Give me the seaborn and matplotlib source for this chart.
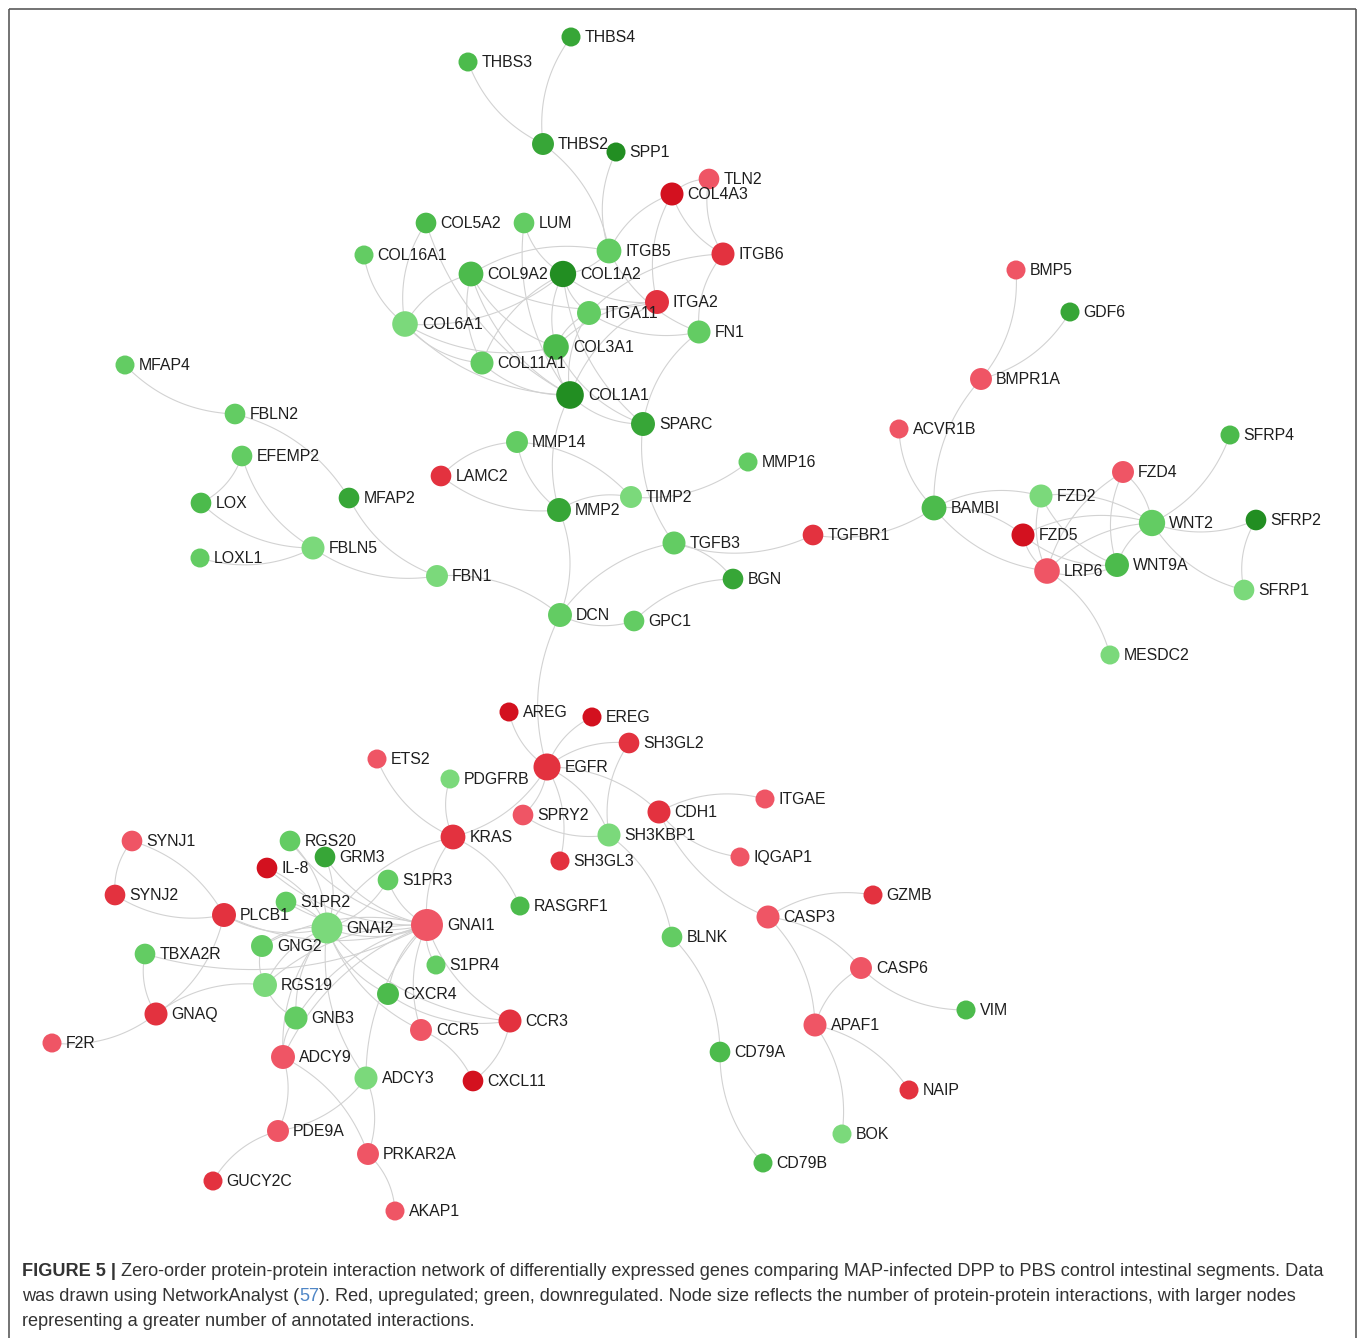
import numpy as np
import pandas as pd
import matplotlib
matplotlib.use("Agg")
import matplotlib.pyplot as plt
from matplotlib.collections import LineCollection
import seaborn as sns

# ---------------------------------------------------------------- data
genes = [
    "THBS4", "THBS3", "THBS2", "SPP1", "TLN2", "COL4A3", "COL5A2", "LUM",
    "COL16A1", "ITGB5", "ITGB6", "COL9A2", "COL1A2", "ITGA2", "ITGA11", "FN1",
    "COL6A1", "COL3A1", "COL11A1", "COL1A1", "SPARC", "MFAP4", "FBLN2", "EFEMP2",
    "LOX", "MFAP2", "LOXL1", "FBLN5", "FBN1", "MMP14", "LAMC2", "TIMP2",
    "MMP16", "MMP2", "TGFB3", "BGN", "DCN", "GPC1", "TGFBR1",
    "BMP5", "GDF6", "BMPR1A", "ACVR1B", "SFRP4", "FZD4", "FZD2", "BAMBI",
    "WNT2", "SFRP2", "FZD5", "LRP6", "WNT9A", "SFRP1", "MESDC2",
    "AREG", "EREG", "SH3GL2", "ETS2", "EGFR", "PDGFRB", "ITGAE", "SPRY2",
    "CDH1", "SH3KBP1", "KRAS", "SYNJ1", "RGS20", "GRM3", "IQGAP1", "SH3GL3",
    "IL-8", "S1PR3", "GZMB", "SYNJ2", "S1PR2", "RASGRF1", "PLCB1", "GNAI2",
    "GNAI1", "CASP3", "BLNK", "GNG2", "TBXA2R", "S1PR4", "CASP6", "RGS19",
    "CXCR4", "VIM", "GNAQ", "GNB3", "CCR3", "APAF1", "CCR5", "F2R",
    "CD79A", "ADCY9", "ADCY3", "CXCL11", "NAIP", "BOK", "PDE9A", "PRKAR2A",
    "CD79B", "GUCY2C", "AKAP1",
]

layout_x = [
    571, 468, 543, 616, 709, 672, 426, 524,
    364, 609, 723, 471, 563, 657, 589, 699,
    405, 556, 482, 570, 643, 125, 235, 242,
    201, 349, 200, 313, 437, 517, 441, 631,
    748, 559, 674, 733, 560, 634, 813,
    1016, 1070, 981, 899, 1230, 1123, 1041, 934,
    1152, 1256, 1023, 1047, 1117, 1244, 1110,
    509, 592, 629, 377, 547, 450, 765, 523,
    659, 609, 453, 132, 290, 325, 740, 560,
    267, 388, 873, 115, 286, 520, 224, 327,
    427, 768, 672, 262, 145, 436, 861, 265,
    388, 966, 156, 296, 510, 815, 421, 52,
    720, 283, 366, 473, 909, 842, 278, 368,
    763, 213, 395,
]

layout_y = [
    37, 62, 144, 152, 179, 194, 223, 223,
    255, 251, 254, 274, 274, 302, 313, 332,
    324, 347, 363, 395, 424, 365, 414, 456,
    503, 498, 558, 548, 576, 442, 476, 497,
    462, 510, 543, 579, 615, 621, 535,
    270, 312, 379, 429, 435, 472, 496, 508,
    523, 520, 535, 571, 565, 590, 655,
    712, 717, 743, 759, 767, 779, 799, 815,
    812, 835, 837, 841, 841, 857, 857, 861,
    868, 880, 895, 895, 902, 906, 915, 928,
    925, 917, 937, 946, 954, 965, 968, 985,
    994, 1010, 1014, 1018, 1021, 1025, 1030, 1043,
    1052, 1057, 1078, 1081, 1090, 1134, 1131, 1154,
    1163, 1181, 1211,
]

# regulation class: >0 upregulated (3 = strongest), <0 downregulated (-5 = strongest)
regulation = [
    -4, -3, -4, -5, 1, 3, -3, -2,
    -2, -2, 2, -3, -5, 2, -2, -2,
    -1, -3, -2, -5, -4, -2, -2, -2,
    -3, -4, -2, -1, -1, -2, 2, -1,
    -2, -4, -2, -4, -2, -2, 2,
    1, -4, 1, 1, -3, 1, -1, -3,
    -2, -5, 3, 1, -3, -1, -1,
    3, 3, 2, 1, 2, -1, 1, 1,
    2, -1, 2, 1, -2, -4, 1, 2,
    3, -2, 2, 2, -2, -3, 2, -1,
    1, 1, -2, -2, -2, -2, 1, -1,
    -3, -3, 2, -2, 2, 1, 1, 1,
    -3, 1, -1, 3, 2, -1, 1, 1,
    -3, 2, 1,
]

edge_source = [
    "THBS3", "THBS4", "ITGB5", "SPP1", "COL4A3", "COL4A3", "COL4A3", "TLN2",
    "TLN2", "ITGB6", "ITGB6", "COL5A2", "COL5A2", "COL16A1", "LUM", "LUM",
    "COL9A2", "COL6A1", "COL9A2", "COL9A2", "COL9A2", "ITGB5", "COL6A1", "COL6A1",
    "COL6A1", "COL1A2", "COL1A2", "COL1A2", "COL1A2", "COL1A2", "COL1A2", "ITGA11",
    "ITGA11", "ITGA11", "ITGA2", "ITGA2", "ITGB5", "COL3A1", "COL11A1", "COL1A1",
    "FN1", "COL3A1", "COL9A2",
    "MFAP4", "MFAP2", "LOX", "EFEMP2", "LOX", "LOXL1", "FBLN5", "MFAP2",
    "DCN", "MMP14", "LAMC2", "MMP14", "TIMP2", "TIMP2", "TIMP2", "COL1A1",
    "DCN", "SPARC", "TGFB3", "BGN", "TGFB3", "BGN", "DCN", "DCN", "TGFBR1",
    "BMPR1A", "BMPR1A", "BMPR1A", "ACVR1B", "FZD2", "FZD5", "BAMBI", "WNT2",
    "FZD2", "FZD2", "FZD4", "WNT2", "FZD4", "WNT2", "FZD5", "FZD5",
    "WNT2", "LRP6", "WNT2", "WNT2", "WNT2", "WNT2", "SFRP2", "MESDC2",
    "AREG", "EREG", "SH3GL2", "SH3GL2", "SPRY2", "KRAS", "SH3GL3", "SH3KBP1",
    "CDH1", "ETS2", "PDGFRB", "SPRY2", "ITGAE", "CDH1", "CDH1", "BLNK",
    "RASGRF1", "GZMB", "CASP6", "APAF1", "CASP6", "CASP6", "NAIP", "BOK",
    "CD79A", "CD79A", "KRAS", "KRAS",
    "SYNJ1", "PLCB1", "SYNJ2", "GNAQ", "PLCB1", "PLCB1", "TBXA2R", "TBXA2R",
    "F2R", "RGS19", "GNG2", "RGS19", "GNB3", "PDE9A", "PRKAR2A", "PDE9A",
    "PRKAR2A", "PDE9A", "AKAP1", "CXCL11", "CXCL11", "CXCR4",
    "GNAI2", "GNAI2", "GNAI2", "GNAI2", "GNAI2", "GNAI2", "GNAI2", "GNAI2",
    "GNAI2", "GNAI2", "GNAI2", "GNAI2", "GNAI2", "GNAI2",
    "S1PR2", "S1PR3", "GNAI1", "RGS20", "GRM3", "IL-8", "GNAI1", "GNAI1",
    "GNAI1", "GNAI1", "GNAI1", "GNAI1", "GNAI1", "GNAI1",
]

edge_target = [
    "THBS2", "THBS2", "THBS2", "ITGB5", "ITGB5", "ITGA2", "ITGB6", "ITGB6",
    "COL4A3", "FN1", "ITGA11", "COL6A1", "COL1A1", "COL6A1", "COL1A1", "COL1A2",
    "COL6A1", "COL1A2", "COL11A1", "COL1A1", "COL3A1", "COL9A2", "COL11A1", "COL1A1",
    "COL3A1", "ITGA2", "ITGA11", "COL11A1", "COL3A1", "ITGB5", "SPARC", "COL1A1",
    "COL3A1", "FN1", "COL1A1", "COL3A1", "FN1", "COL1A1", "COL1A1", "SPARC",
    "SPARC", "SPARC", "ITGA2",
    "FBLN2", "FBLN2", "EFEMP2", "FBLN5", "FBLN5", "FBLN5", "FBN1", "FBN1",
    "FBN1", "LAMC2", "MMP2", "MMP2", "MMP14", "MMP2", "MMP16", "MMP2",
    "MMP2", "TGFB3", "DCN", "TGFB3", "TGFBR1", "GPC1", "GPC1", "EGFR", "BAMBI",
    "BMP5", "GDF6", "BAMBI", "BAMBI", "BAMBI", "BAMBI", "LRP6", "FZD2",
    "LRP6", "WNT9A", "LRP6", "FZD4", "WNT9A", "FZD5", "LRP6", "WNT9A",
    "LRP6", "WNT9A", "WNT9A", "SFRP4", "SFRP2", "SFRP1", "SFRP1", "LRP6",
    "EGFR", "EGFR", "EGFR", "SH3KBP1", "EGFR", "EGFR", "EGFR", "EGFR",
    "EGFR", "KRAS", "KRAS", "SH3KBP1", "CDH1", "IQGAP1", "CASP3", "SH3KBP1",
    "KRAS", "CASP3", "CASP3", "CASP3", "APAF1", "VIM", "APAF1", "APAF1",
    "BLNK", "CD79B", "GNAI1", "GNAI2",
    "SYNJ2", "SYNJ1", "PLCB1", "PLCB1", "GNAI2", "GNAI1", "GNAQ", "GNAI1",
    "GNAQ", "GNAQ", "RGS19", "GNB3", "ADCY9", "ADCY9", "ADCY9", "ADCY3",
    "ADCY3", "GUCY2C", "PRKAR2A", "CCR5", "CCR3", "CCR3",
    "S1PR2", "IL-8", "RGS20", "GRM3", "GNG2", "RGS19", "GNB3", "CXCR4",
    "CCR5", "CCR3", "ADCY3", "ADCY9", "S1PR3", "GNAI1",
    "GNAI1", "GNAI1", "S1PR4", "GNAI1", "GNAI1", "GNAI1", "GNG2", "RGS19",
    "GNB3", "CXCR4", "CCR5", "CCR3", "ADCY3", "ADCY9",
]

caption_lines = [
    "Zero-order protein-protein interaction network of differentially expressed genes "
    "comparing MAP-infected DPP to PBS control intestinal segments. Data",
    ("was drawn using NetworkAnalyst (", "57",
     "). Red, upregulated; green, downregulated. Node size reflects the number of "
     "protein-protein interactions, with larger nodes"),
    "representing a greater number of annotated interactions.",
]

# ---------------------------------------------------------------- frame
W, H, DPI = 1360, 1338, 100
sns.set_theme(style="white")
plt.rcParams["font.family"] = ["Liberation Sans", "DejaVu Sans"]

fig = plt.figure(figsize=(W / DPI, H / DPI), dpi=DPI)
ax = fig.add_axes([0, 0, 1, 1])
ax.set_xlim(0, W)
ax.set_ylim(H, 0)
ax.axis("off")

nodes = pd.DataFrame({"gene": genes, "x": layout_x, "y": layout_y,
                      "regulation": regulation})
pos = {g: (x, y) for g, x, y in zip(genes, layout_x, layout_y)}

edges = pd.DataFrame({"source": edge_source, "target": edge_target})
degree = pd.concat([edges["source"], edges["target"]]).value_counts()
nodes["degree"] = nodes["gene"].map(degree).fillna(1).astype(int)

# node radius (px) grows with the number of interactions
def radius(d):
    return 7.5 + 2.0 * np.sqrt(d)

px_to_pt = 72.0 / DPI
size_map = {d: (2 * radius(d) * px_to_pt) ** 2 for d in sorted(nodes["degree"].unique())}

palette = {
    3: "#d3111f",
    2: "#e3323f",
    1: "#ef5565",
    -1: "#7bd97b",
    -2: "#63cc63",
    -3: "#4cbb4c",
    -4: "#37a637",
    -5: "#228e22",
}

# ---------------------------------------------------------------- edges (curved)
t = np.linspace(0, 1, 40)[:, None]
segments = []
for s, e in zip(edges["source"], edges["target"]):
    p0 = np.array(pos[s], float)
    p2 = np.array(pos[e], float)
    d = p2 - p0
    ctrl = (p0 + p2) / 2 + 0.2 * np.array([-d[1], d[0]])
    curve = (1 - t) ** 2 * p0 + 2 * (1 - t) * t * ctrl + t ** 2 * p2
    segments.append(curve)
ax.add_collection(LineCollection(segments, colors="#d2d2d2", linewidths=1.1 * px_to_pt,
                                 zorder=1))

# ---------------------------------------------------------------- nodes
sns.scatterplot(data=nodes, x="x", y="y", hue="regulation", palette=palette,
                size="degree", sizes=size_map, legend=False, linewidth=0,
                alpha=1, ax=ax, zorder=3)

for g, x, y, d in zip(nodes["gene"], nodes["x"], nodes["y"], nodes["degree"]):
    ax.text(x + radius(d) + 4, y + 0.5, g, fontsize=11.4, color="#1e1e1e",
            va="center", ha="left", zorder=4)

# ---------------------------------------------------------------- border
border = dict(color="#555555", lw=1.6 * px_to_pt, zorder=5, solid_capstyle="butt")
ax.plot([8.5, 8.5], [8.5, H], **border)
ax.plot([8.5, 1355.5], [8.5, 8.5], **border)
ax.plot([1355.5, 1355.5], [8.5, H], **border)

# ---------------------------------------------------------------- caption
fig.canvas.draw()
renderer = fig.canvas.get_renderer()
cap_kw = dict(fontsize=13.05, color="#333333", va="baseline", ha="left", zorder=5)
x0 = 22
ys = [1276, 1301, 1326]

head = ax.text(x0, ys[0], "FIGURE 5 | ", fontweight="bold", **cap_kw)
hw = head.get_window_extent(renderer).width
ax.text(x0 + hw, ys[0], caption_lines[0], **cap_kw)

pre, num, post = caption_lines[1]
probe = ax.text(0, 0, pre, **cap_kw)
w_pre = probe.get_window_extent(renderer).width
probe.set_text(pre + num)
w_num = probe.get_window_extent(renderer).width
probe.remove()
ax.text(x0, ys[1], pre, **cap_kw)
ax.text(x0 + w_pre, ys[1], num, **{**cap_kw, "color": "#4f86c6"})
ax.text(x0 + w_num, ys[1], post, **cap_kw)

ax.text(x0, ys[2], caption_lines[2], **cap_kw)

fig.savefig("out.png", dpi=DPI, facecolor="white")
